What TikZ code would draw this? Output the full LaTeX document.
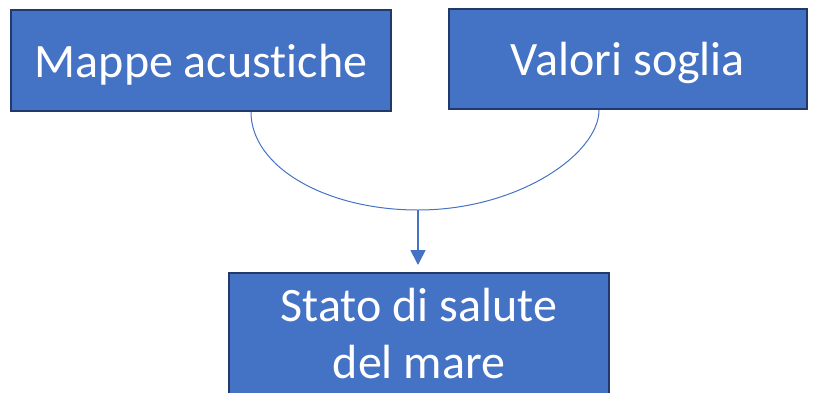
\documentclass[tikz,border=0pt]{standalone}
\usepackage{fontspec}
\setmainfont{Carlito}[Ligatures=NoCommon]
\usepackage{tikz}
\usetikzlibrary{arrows.meta}

\definecolor{boxblue}{HTML}{4472C4}
\definecolor{boxline}{HTML}{22396A}

\begin{document}
\begin{tikzpicture}[x=1pt,y=-1pt,
    box/.style={rectangle, draw=boxline, line width=2pt, fill=boxblue, text=white,
      font=\fontsize{48}{57}\selectfont, inner sep=0pt},
    link/.style={draw=boxblue, line width=1pt}]
      \useasboundingbox (0,0) rectangle (823,392);
      \node[name=mappe, box, minimum width=380pt, minimum height=101pt,
        text height=36pt, text depth=3pt] at (201,60.5){Mappe acustiche};
      \node[name=valori, box, minimum width=358pt, minimum height=100pt,
        text height=36pt, text depth=4pt] at (628,59){Valori soglia};
      \node[name=stato, box, minimum width=380pt, minimum height=122pt, align=center]
        at (419,334){Stato di salute\\del mare};
      \coordinate (joint) at (418,210);
      \draw[link] ([xshift=50pt]mappe.south) .. controls +(0,55) and (326,210) .. (joint)
        .. controls (518,210) and +(0,44) .. ([xshift=-29pt]valori.south);
      \draw[link, line width=1.7pt, -{Triangle[width=15pt,length=15pt]}, shorten >=7pt]
        (joint) -- (joint |- stato.north);
   \end{tikzpicture}
\end{document}
